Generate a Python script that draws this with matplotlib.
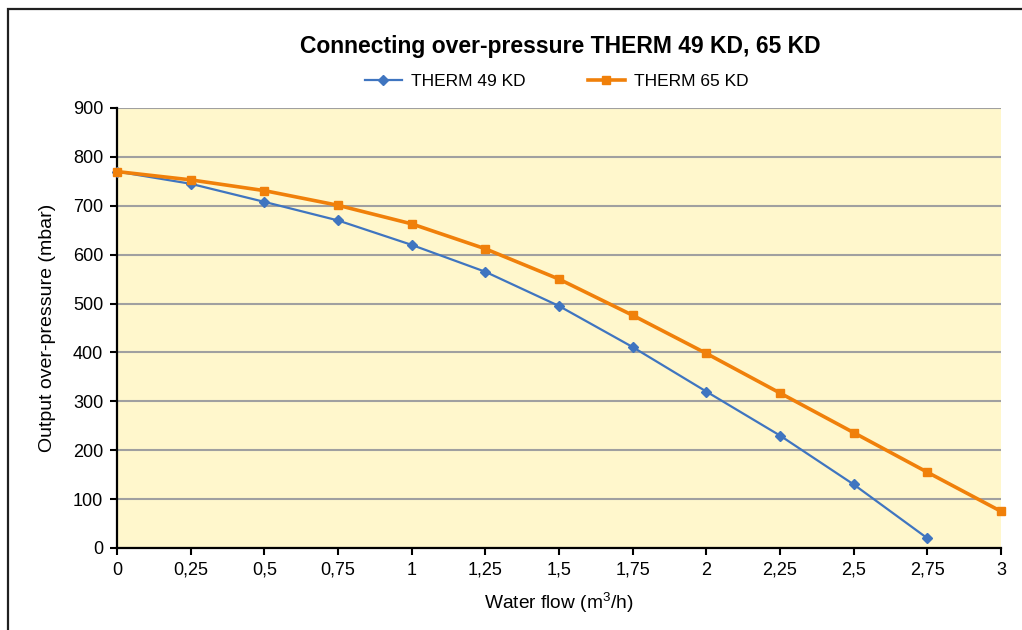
import matplotlib
matplotlib.use('Agg')
from matplotlib import pyplot as plt
from matplotlib.patches import Rectangle
from matplotlib.ticker import FuncFormatter

plt.rcParams['font.family'] = ['Liberation Sans', 'DejaVu Sans']
plt.rcParams['mathtext.fontset'] = 'custom'
plt.rcParams['mathtext.rm'] = 'Liberation Sans'

# data
flow = [0, 0.25, 0.5, 0.75, 1, 1.25, 1.5, 1.75, 2, 2.25, 2.5, 2.75, 3]
therm49 = [770, 745, 708, 670, 620, 565, 495, 411, 320, 230, 130, 20]
therm65 = [770, 753, 731, 701, 663, 612, 550, 476, 398, 317, 236, 155, 75]

fig = plt.figure(figsize=(10.22, 6.3), dpi=100)
ax = fig.add_axes([117 / 1022, 1 - 548 / 630, (1001 - 117) / 1022, (548 - 108) / 630])

# outer frame of the chart object
fig.patches.append(Rectangle((8 / 1022, -0.1), 1.2, (630 - 9) / 630 + 0.1,
                             transform=fig.transFigure, fill=False,
                             edgecolor='#202020', linewidth=1.6, clip_on=False))

ax.set_facecolor('#fff7cc')
ax.plot(flow[:len(therm49)], therm49, color='#3f75c0', marker='D', markersize=5,
        linewidth=1.6, label='THERM 49 KD', clip_on=False, zorder=3)
ax.plot(flow, therm65, color='#f0800a', marker='s', markersize=6,
        linewidth=2.6, label='THERM 65 KD', clip_on=False, zorder=3)

ax.set_xlim(0, 3)
ax.set_ylim(0, 900)
ax.set_xticks(flow)
ax.set_yticks(range(0, 901, 100))
ax.xaxis.set_major_formatter(FuncFormatter(lambda v, p: ('%g' % v).replace('.', ',')))
ax.yaxis.grid(True, color='#a0a0a0', linewidth=1.5)
ax.set_axisbelow(True)
for s in ['top', 'right']:
    ax.spines[s].set_visible(False)
for s in ['left', 'bottom']:
    ax.spines[s].set_linewidth(1.6)
ax.tick_params(axis='both', direction='out', length=5, width=1.5, labelsize=13,
               colors='black', pad=5)

ax.set_xlabel('Water flow (m$^\\mathrm{3}$/h)', fontsize=13.8, labelpad=8)
ax.set_ylabel('Output over-pressure (mbar)', fontsize=14, labelpad=12)

fig.text(560 / 1022, 1 - 46 / 630, 'Connecting over-pressure THERM 49 KD, 65 KD',
         ha='center', va='center', fontsize=16.5, fontweight='bold')
fig.legend(loc='center', bbox_to_anchor=(557 / 1022, 1 - 81 / 630), ncol=2, frameon=False,
           fontsize=12.5, handlelength=2.1, handletextpad=0.55, columnspacing=3.6)

fig.savefig('out.png', dpi=100)
